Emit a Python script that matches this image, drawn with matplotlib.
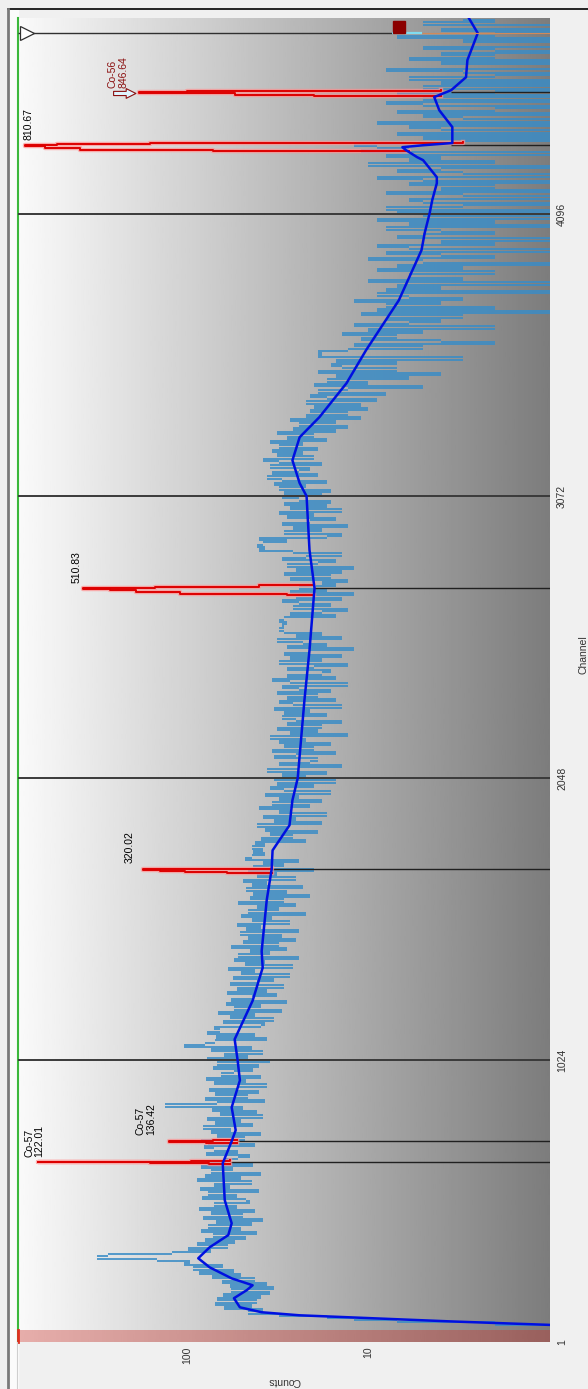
import numpy as np
import matplotlib
matplotlib.use('Agg')
from matplotlib import pyplot as plt
from matplotlib.lines import Line2D
from matplotlib.patches import Rectangle
from matplotlib.ticker import FixedLocator, NullLocator

plt.rcParams['font.family'] = ['Liberation Sans', 'DejaVu Sans']

W, H = 588, 1389

# raw spectrum, one value every 8th channel from channel 40
CH_START = 40
CH_STEP = 8
counts = [
    0, 0, 0, 1, 2, 7, 12, 17, 31, 46, 38, 62, 44, 70, 41, 68, 39, 63, 35, 57,
    33, 58, 36, 64, 42, 73, 50, 86, 55, 92, 63, 104, 96, 146, 312, 270, 120, 74, 98, 59,
    88, 54, 79, 47, 72, 41, 83, 50, 76, 44, 69, 38, 81, 49, 74, 42, 86, 53, 71, 45,
    47, 82, 53, 76, 40, 85, 58, 71, 44, 88, 50, 79, 39, 74, 56, 83, 43, 77, 61, 52,
    45, 78, 52, 71, 80, 42, 76, 83, 48, 68, 39, 74, 57, 81, 43, 70, 50, 77, 38, 66,
    41, 73, 49, 132, 68, 37, 79, 46, 70, 40, 75, 53, 36, 71, 47, 78, 39, 65, 55, 43,
    72, 40, 68, 35, 77, 46, 62, 38, 74, 44, 104, 79, 70, 36, 69, 42, 77, 66, 71, 39,
    37, 63, 33, 58, 42, 67, 30, 55, 39, 61, 28, 57, 44, 32, 60, 36, 53, 29, 58, 41,
    33, 56, 27, 50, 42, 59, 26, 48, 37, 55, 24, 52, 35, 45, 28, 57, 31, 49, 25, 46,
    30, 51, 24, 47, 39, 53, 27, 44, 34, 50, 22, 46, 31, 41, 25, 52, 29, 45, 21, 43,
    28, 47, 23, 44, 36, 49, 25, 41, 32, 46, 20, 43, 29, 38, 24, 48, 44, 37, 43, 38,
    44, 37, 42, 22, 39, 26, 35, 19, 37, 28, 41, 18, 33, 25, 38, 17, 31, 27, 40, 21,
    34, 18, 31, 24, 37, 16, 29, 35, 20, 32, 15, 33, 22, 30, 17, 36, 24, 14, 31, 21,
    19, 33, 25, 15, 34, 20, 29, 16, 31, 22, 35, 13, 27, 19, 32, 18, 28, 14, 25, 30,
    17, 29, 21, 33, 14, 26, 31, 15, 28, 19, 32, 16, 24, 30, 13, 27, 34, 15, 28, 18,
    16, 28, 20, 13, 31, 18, 27, 14, 29, 21, 12, 28, 17, 23, 32, 14, 25, 18, 29, 31,
    29, 30, 28, 31, 29, 15, 27, 18, 13, 26, 16, 24, 30, 14, 25, 12, 27, 17, 24, 15,
    18, 13, 27, 16, 29, 14, 25, 12, 28, 19, 15, 30, 22, 14, 26, 40, 37, 41, 38, 28,
    40, 17, 14, 29, 18, 26, 13, 30, 21, 15, 28, 20, 31, 14, 27, 17, 29, 16, 24, 30,
    18, 29, 16, 31, 22, 33, 17, 30, 36, 19, 34, 24, 21, 35, 18, 31, 38, 20, 32, 23,
    34, 19, 31, 23, 35, 17, 28, 20, 32, 15, 26, 13, 24, 15, 27, 11, 22, 13, 21, 10,
    20, 11, 22, 9, 17, 21, 8, 19, 13, 5, 20, 10, 17, 6, 15, 4, 19, 7, 14, 16,
    7, 15, 3, 19, 18, 19, 13, 5, 12, 2, 4, 11, 7, 14, 5, 10, 2, 12, 6, 4,
    8, 3, 11, 1, 9, 2, 8, 4, 12, 3, 6, 9, 1, 8, 4, 7, 1, 10, 3, 6,
    6, 2, 9, 3, 7, 1, 5, 10, 2, 4, 8, 0, 6, 9, 2, 4, 1, 7, 5, 2,
    4, 8, 1, 6, 2, 9, 0, 5, 7, 1, 8, 3, 0, 5, 6, 1, 3, 8, 0, 4,
    2, 6, 1, 5, 9, 0, 3, 7, 4, 1, 10, 2, 6, 4, 8, 1, 11, 6, 9, 12,
    3, 0, 5, 1, 7, 0, 4, 6, 1, 9, 0, 3, 5, 1, 7, 2, 0, 5, 8, 1,
    5, 1, 7, 2, 0, 5, 1, 4, 0, 6, 2, 0, 3, 8, 1, 0, 4, 1, 6, 2,
    4, 0, 2, 5, 0, 1, 3, 0, 7, 2, 0, 4, 1, 0, 5, 2, 3,
]
channels = np.arange(CH_START, CH_START + CH_STEP * len(counts), CH_STEP)

# smoothed continuum
cont_ch = [50, 62, 76, 87, 98, 109, 127, 160, 189, 207, 232, 272, 305, 345, 389,
           432, 516, 650, 730, 770, 853, 951, 1024, 1100, 1240, 1360, 1420, 1605,
           1717, 1786, 1877, 1968, 2048, 2331, 2513, 2738, 2876, 3072, 3119, 3202,
           3286, 3359, 3482, 3602, 3783, 3965, 4027, 4099, 4147, 4208, 4230, 4292,
           4303, 4328, 4339, 4346, 4354, 4412, 4473, 4521, 4546, 4593, 4655, 4753, 4808]
cont_val = [0.5, 0.9, 3.6, 9.3, 24, 38.7, 51, 55, 46.8, 43.4, 56.6, 74.8, 86.5, 74.8,
            59.1, 56.6, 61.8, 63.4, 56.6, 53.8, 56.6, 51, 52.5, 54.5, 43.4, 38.2, 38.7,
            36.3, 34.1, 33.7, 27.2, 26.2, 24.5, 22.5, 21.1, 19.8, 21.1, 21.9, 23.9, 26.2,
            23.9, 18.6, 13.2, 10.3, 6.8, 5.1, 4.9, 4.6, 4.45, 4.2, 4.2, 5.0, 5.4, 6.2,
            6.5, 5.0, 3.45, 3.45, 4.07, 4.34, 3.5, 2.9, 2.85, 2.5, 2.8]

# identified peaks
peak_labels = ['Co-57\n122.01', 'Co-57\n136.42', '320.02', '510.83', '810.67', 'Co-56\n846.64']
peak_ch = [654, 730, 1717, 2738, 4346, 4539]
peak_base = [58, 53, 34, 20, 3.5, 3.5]
peak_offsets = [
    [-6, -3, -1, 0, 1, 3, 6],
    [-5, -2, 0, 1, 3, 5],
    [-14, -10, -6, -2, 0, 2, 6],
    [-26, -20, -14, -8, -3, 0, 4, 10, 16],
    [-22, -18, -10, -4, 0, 4, 8, 12],
    [-16, -10, -5, -2, 0, 3, 6],
]
peak_counts = [
    [58, 75, 160, 663, 300, 95, 58],
    [53, 78, 126, 110, 72, 53],
    [34, 60, 102, 140, 175, 90, 34],
    [20, 28, 109, 190, 265, 373, 150, 40, 20],
    [6, 72, 387, 600, 782, 520, 160, 3],
    [4, 20, 54, 120, 184, 100, 4],
]

grid_ch = [1024, 2048, 3072, 4096]
chan_ticks = [1, 1024, 2048, 3072, 4096]
count_ticks = [10, 100]
cursor_ch = 4753
roi = (1, 44)

# label anchors (counts, channel) and colours
label_xy = [(692, 672), (168, 752), (206, 1739), (402, 2756), (748, 4364), (239, 4553)]
label_col = ['black', 'black', 'black', 'black', 'black', '#8b1010']

XMAX, XMIN = 850, 1
YMIN, YMAX = 1, 4808

fig = plt.figure(figsize=(W / 100, H / 100), dpi=100, facecolor='#f0f0f0')

# white strip and frame on the left / top
fig.add_artist(Rectangle((8 / W, 0), 10 / W, 1 - 9 / H, transform=fig.transFigure,
                         color='#fbfbfb', zorder=0))
fig.add_artist(Line2D([8 / W, 1], [1 - 9 / H, 1 - 9 / H], color='black', lw=1.2))
fig.add_artist(Line2D([8 / W, 8 / W], [0, 1 - 9 / H], color='#7a7a7a', lw=2))
fig.add_artist(Line2D([17 / W, 17 / W], [0, 47 / H], color='#cfcfcf', lw=0.8))

pos = [18 / W, (H - 1342) / H, 532 / W, 1324 / H]

# gradient background
bg = fig.add_axes(pos, zorder=0)
grad = np.linspace(0.98, 0.49, 256).reshape(1, -1)
bg.imshow(grad, cmap='gray', vmin=0, vmax=1, aspect='auto', extent=(0, 1, 0, 1))
bg.set_axis_off()

ax = fig.add_axes(pos, zorder=1)
ax.patch.set_alpha(0)
ax.set_xscale('log', nonpositive='clip')

ax.axhspan(*roi, color='#c8322a', alpha=0.38, lw=0, zorder=1)

# spectrum: one stroke per channel spanning to the next channel's count
c = np.array(counts, dtype=float)
c[c <= 0] = 0.3
ax.hlines(channels[:-1], c[:-1], c[1:], color='#3a8cc6', lw=1.2, zorder=2)

for g in grid_ch:
    ax.axhline(g, color='#3a3a3a', lw=1.4, zorder=3)

for pc, base in zip(peak_ch, peak_base):
    ax.hlines(pc, XMIN, base, color='#202020', lw=1.0, zorder=3)

for pc, offs, vals in zip(peak_ch, peak_offsets, peak_counts):
    chs = [pc + o for o in offs]
    ax.plot(vals, chs, drawstyle='steps-post', color='#ff9090', lw=3.2, alpha=0.7, zorder=4)
    ax.plot(vals, chs, drawstyle='steps-post', color='#dd0000', lw=1.4, zorder=5)

ax.plot(cont_val, cont_ch, color='#0010e0', lw=1.8, zorder=6, solid_joinstyle='round')

for text, (lx, ly), col in zip(peak_labels, label_xy, label_col):
    ax.text(lx, ly, text, rotation=90, ha='center', va='bottom', ma='left',
            fontsize=7.5, color=col, zorder=7, linespacing=1.05)

# selected peak marker
ax.annotate('', xy=(184, 4534), xytext=(262, 4534),
            arrowprops=dict(arrowstyle='simple,head_length=0.7,head_width=0.7,tail_width=0.3',
                            fc='#dff4ff', ec='#8b1010', lw=0.8), zorder=7)

# cursor line
ax.hlines(cursor_ch, 7.4, XMAX, color='#303030', lw=1.0, zorder=6)
ax.hlines(cursor_ch, 5.1, 7.4, color='#7fdcf0', lw=1.6, zorder=6)
ax.hlines(cursor_ch, XMIN, 5.1, color='#d08a5a', lw=0.8, zorder=6)
ax.plot([760], [cursor_ch], marker='>', ms=10, mfc='white', mec='#303030', mew=0.9,
        zorder=7, clip_on=False)
ax.plot([6.8], [4774], marker='s', ms=8.5, color='#8b0000', zorder=7)

ax.set_xlim(XMAX, XMIN)
ax.set_ylim(YMIN, YMAX)

for side in ['top', 'right', 'bottom']:
    ax.spines[side].set_visible(False)
ax.spines['left'].set_color('#3cb83c')
ax.spines['left'].set_linewidth(1.5)
ax.plot([XMAX, XMAX], [roi[0], roi[1]], color='#e03020', lw=2, zorder=8, clip_on=False)

ax.xaxis.set_major_locator(FixedLocator(count_ticks))
ax.xaxis.set_minor_locator(NullLocator())
ax.set_xticklabels([str(t) for t in count_ticks])
ax.tick_params(axis='x', length=0, pad=3, labelsize=7.5, labelcolor='#333333',
               labelrotation=90)

ax.yaxis.tick_right()
ax.set_yticks(chan_ticks)
ax.set_yticklabels([str(t) for t in chan_ticks])
ax.tick_params(axis='y', length=0, pad=5, labelsize=7.5, labelcolor='#333333',
               labelrotation=90)
for lab in ax.get_yticklabels():
    lab.set_va('center')

ax.set_xlabel('Counts', rotation=180, fontsize=7.5, color='#333333')
ax.xaxis.set_label_coords(0.5, -0.026)
ax.yaxis.set_label_position('right')
ax.set_ylabel('Channel', rotation=90, fontsize=7.5, color='#333333')
ax.yaxis.set_label_coords(1.053, 0.519)

fig.savefig('out.png', dpi=100, facecolor=fig.get_facecolor())
